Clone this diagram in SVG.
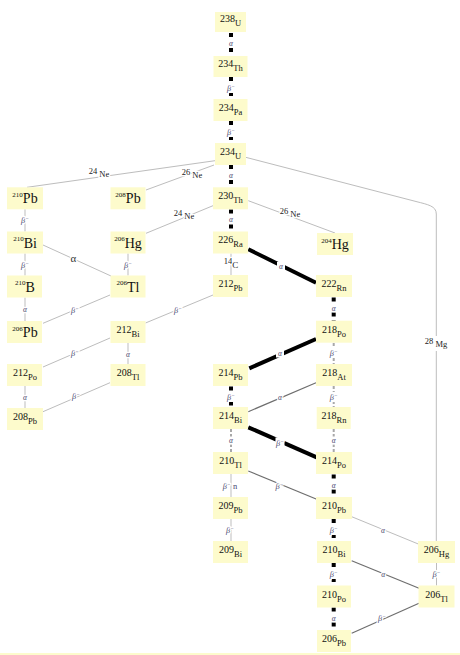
<svg xmlns="http://www.w3.org/2000/svg" width="460" height="655" viewBox="0 0 460 655">
<style>
.bx{fill:#fdfbcc}
.nl{font-family:"Liberation Serif",serif;text-anchor:middle;fill:#111}
.m{font-size:10px}
.e{font-size:8.5px}
.s{font-size:7px}
.b{font-size:14px}
.td{stroke:#000;stroke-width:4;stroke-dasharray:4 3.5;fill:none}
.ts{stroke:#000;stroke-width:4;fill:none}
.gd{stroke:#a8a8a8;stroke-width:2;stroke-dasharray:3 2;fill:none}
.lg{stroke:#bdbdbd;stroke-width:1;fill:none}
.dg{stroke:#6e6e6e;stroke-width:1.2;fill:none}
.lb{fill:#fff}
.el{font-family:"Liberation Serif",serif;font-size:7.5px;font-style:italic;fill:#4a4a70;text-anchor:middle;stroke:#fff;stroke-width:2.5px;paint-order:stroke;stroke-linejoin:round}
.bl{font-size:8.5px}
.ne{font-family:"Liberation Serif",serif;font-size:8.5px;fill:#222;text-anchor:middle;stroke:#fff;stroke-width:2.5px;paint-order:stroke;stroke-linejoin:round}
.big{font-size:11px;font-style:normal;fill:#333}
</style>
<rect width="460" height="655" fill="#fff"/>
<rect x="0" y="653" width="460" height="2" fill="#fdfbcc"/>
<g id="connectors">
<line class="td" x1="231" y1="33" x2="231" y2="55"/>
<line class="td" x1="231" y1="77" x2="231" y2="99"/>
<line class="td" x1="231" y1="121" x2="231" y2="143"/>
<line class="td" x1="231" y1="165" x2="231" y2="187"/>
<line class="td" x1="231" y1="209.5" x2="231" y2="231.5"/>
<line class="td" x1="231" y1="386.5" x2="231" y2="407"/>
<line class="td" x1="333.7" y1="297.5" x2="333.7" y2="320.5"/>
<line class="td" x1="333.7" y1="474.5" x2="333.7" y2="497"/>
<line class="td" x1="333.7" y1="519" x2="333.7" y2="541"/>
<line class="td" x1="333.7" y1="563" x2="333.7" y2="585.5"/>
<line class="td" x1="333.7" y1="607.5" x2="333.7" y2="630"/>
<line class="ts" x1="248.3" y1="249.3" x2="316" y2="282.7"/>
<line class="ts" x1="316" y1="339" x2="249.3" y2="368.3"/>
<line class="ts" x1="248.3" y1="427.3" x2="316.7" y2="457.3"/>
<line class="gd" x1="333.7" y1="343" x2="333.7" y2="364"/>
<line class="gd" x1="333.7" y1="386" x2="333.7" y2="407"/>
<line class="gd" x1="333.7" y1="429" x2="333.7" y2="452"/>
<line class="gd" x1="231" y1="429" x2="231" y2="452"/>
<line class="lg" x1="231" y1="253.5" x2="231" y2="275"/>
<line class="lg" x1="231" y1="474" x2="231" y2="497"/>
<line class="lg" x1="231" y1="519" x2="231" y2="541"/>
<line class="lg" x1="25" y1="209.3" x2="25" y2="231.5"/>
<line class="lg" x1="25" y1="253.5" x2="25" y2="275.5"/>
<line class="lg" x1="25" y1="297.5" x2="25" y2="321"/>
<line class="lg" x1="25" y1="386" x2="25" y2="408"/>
<line class="lg" x1="128" y1="253.5" x2="128" y2="275.5"/>
<line class="lg" x1="128" y1="343" x2="128" y2="364"/>
<line class="lg" x1="436.5" y1="563" x2="436.5" y2="585.5"/>
<line class="lg" x1="215" y1="160.7" x2="27" y2="187.3"/>
<line class="lg" x1="214" y1="165" x2="146" y2="190"/>
<line class="lg" x1="213" y1="205.7" x2="146" y2="233.3"/>
<line class="lg" x1="248.3" y1="200.7" x2="335" y2="233"/>
<line class="lg" x1="213" y1="295" x2="145.5" y2="323"/>
<line class="lg" x1="110" y1="295" x2="43" y2="323.3"/>
<line class="lg" x1="110" y1="338" x2="43" y2="367"/>
<line class="lg" x1="110" y1="382.7" x2="43" y2="411.7"/>
<line class="lg" x1="43" y1="245" x2="111" y2="276"/>
<line class="lg" x1="351.7" y1="516.7" x2="418.3" y2="544"/>
<path class="lg" d="M245.7,157.3 L416,201.5 C428,204.6 436.3,206 436.3,214 L436.3,336"/>
<line class="lg" x1="436.3" y1="351" x2="436.3" y2="541"/>
<line class="dg" x1="316" y1="382.7" x2="248.3" y2="411.7"/>
<line class="dg" x1="248.3" y1="471" x2="316.7" y2="499.3"/>
<line class="dg" x1="351.7" y1="560.7" x2="419" y2="588.3"/>
<line class="dg" x1="419" y1="603.3" x2="351.7" y2="633.3"/>
<rect class="lb" x="227" y="39" width="8" height="8"/>
<rect class="lb" x="227" y="83" width="8" height="10"/>
<rect class="lb" x="227" y="127" width="8" height="10"/>
<rect class="lb" x="227" y="171" width="8" height="8"/>
<rect class="lb" x="227" y="215" width="8" height="8"/>
<rect class="lb" x="227" y="392" width="8" height="10"/>
<rect class="lb" x="329.7" y="304" width="8" height="8"/>
<rect class="lb" x="329.7" y="481" width="8" height="8"/>
<rect class="lb" x="329.7" y="525" width="8" height="10"/>
<rect class="lb" x="329.7" y="569" width="8" height="10"/>
<rect class="lb" x="329.7" y="614" width="8" height="8"/>
<rect class="lb" x="277" y="262" width="8" height="8"/>
<rect class="lb" x="276" y="349.5" width="8" height="8"/>
<rect class="lb" x="275.5" y="437.5" width="9" height="10"/>
<rect class="lb" x="329.7" y="348" width="8" height="10"/>
<rect class="lb" x="329.7" y="392" width="8" height="10"/>
<rect class="lb" x="329.7" y="436.5" width="8" height="8"/>
<rect class="lb" x="227" y="436.5" width="8" height="8"/>
<text class="el" x="231" y="45.5">α</text>
<text class="el bl" x="231" y="91">β<tspan dy="-3" font-size="5.5">−</tspan></text>
<text class="el bl" x="231" y="135">β<tspan dy="-3" font-size="5.5">−</tspan></text>
<text class="el" x="231" y="177.5">α</text>
<text class="el" x="231" y="221.5">α</text>
<text class="el bl" x="231" y="400">β<tspan dy="-3" font-size="5.5">−</tspan></text>
<text class="el" x="333.7" y="310.5">α</text>
<text class="el" x="333.7" y="487.5">α</text>
<text class="el bl" x="333.7" y="533">β<tspan dy="-3" font-size="5.5">−</tspan></text>
<text class="el bl" x="333.7" y="577">β<tspan dy="-3" font-size="5.5">−</tspan></text>
<text class="el" x="333.7" y="620.5">α</text>
<text class="el" x="281" y="268.5">α</text>
<text class="el" x="280" y="356">α</text>
<text class="el bl" x="280" y="445.5">β<tspan dy="-3" font-size="5.5">−</tspan></text>
<text class="el bl" x="333.7" y="356">β<tspan dy="-3" font-size="5.5">−</tspan></text>
<text class="el bl" x="333.7" y="400">β<tspan dy="-3" font-size="5.5">−</tspan></text>
<text class="el" x="333.7" y="443">α</text>
<text class="el" x="231" y="443">α</text>
<text class="ne" x="231" y="264"><tspan>14</tspan><tspan dy="4" font-size="9">C</tspan></text>
<text class="el bl" x="230" y="489">β<tspan dy="-3" font-size="5.5">−</tspan><tspan dy="3" font-style="normal"> n</tspan></text>
<text class="el bl" x="230" y="533">β<tspan dy="-3" font-size="5.5">−</tspan></text>
<text class="el bl" x="25" y="223">β<tspan dy="-3" font-size="5.5">−</tspan></text>
<text class="el bl" x="25" y="268">β<tspan dy="-3" font-size="5.5">−</tspan></text>
<text class="el" x="25" y="311.5">α</text>
<text class="el" x="25" y="399.5">α</text>
<text class="el bl" x="128" y="268">β<tspan dy="-3" font-size="5.5">−</tspan></text>
<text class="el" x="128" y="356.5">α</text>
<text class="el bl" x="436.5" y="577">β<tspan dy="-3" font-size="5.5">−</tspan></text>
<text class="ne" x="99" y="174"><tspan>24</tspan><tspan dy="3"> Ne</tspan></text>
<text class="ne" x="192" y="175"><tspan>26</tspan><tspan dy="3"> Ne</tspan></text>
<text class="ne" x="184" y="216"><tspan>24</tspan><tspan dy="3"> Ne</tspan></text>
<text class="ne" x="290" y="214"><tspan>26</tspan><tspan dy="3"> Ne</tspan></text>
<text class="ne" x="436" y="344"><tspan>28</tspan><tspan dy="3"> Mg</tspan></text>
<text class="el bl" x="178" y="313">β<tspan dy="-3" font-size="5.5">−</tspan></text>
<text class="el bl" x="75" y="313">β<tspan dy="-3" font-size="5.5">−</tspan></text>
<text class="el bl" x="75" y="356">β<tspan dy="-3" font-size="5.5">−</tspan></text>
<text class="el bl" x="76" y="399">β<tspan dy="-3" font-size="5.5">−</tspan></text>
<text class="el big" x="73.5" y="262">α</text>
<text class="el" x="383" y="532.5">α</text>
<text class="el bl" x="279.5" y="489">β<tspan dy="-3" font-size="5.5">−</tspan></text>
<text class="el" x="280" y="400">α</text>
<text class="el" x="383.3" y="577">α</text>
<text class="el bl" x="382" y="621">β<tspan dy="-3" font-size="5.5">−</tspan></text>
</g>
<g id="U238"><rect class="bx" x="215" y="12" width="31" height="20"/><text class="nl" x="230.5" y="22"><tspan class="m">238</tspan><tspan class="e" dy="4">U</tspan></text></g>
<g id="Th234"><rect class="bx" x="213.5" y="56" width="34" height="21"/><text class="nl" x="230.5" y="66.5"><tspan class="m">234</tspan><tspan class="e" dy="4">Th</tspan></text></g>
<g id="Pa234"><rect class="bx" x="213.5" y="99" width="34" height="22"/><text class="nl" x="230.5" y="110.5"><tspan class="m">234</tspan><tspan class="e" dy="4">Pa</tspan></text></g>
<g id="U234"><rect class="bx" x="215" y="143" width="31" height="22"/><text class="nl" x="230.5" y="154.5"><tspan class="m">234</tspan><tspan class="e" dy="4">U</tspan></text></g>
<g id="Th230"><rect class="bx" x="213" y="187.3" width="35" height="22"/><text class="nl" x="230.5" y="199"><tspan class="m">230</tspan><tspan class="e" dy="4">Th</tspan></text></g>
<g id="Ra226"><rect class="bx" x="213" y="231.5" width="35" height="22"/><text class="nl" x="230.5" y="243"><tspan class="m">226</tspan><tspan class="e" dy="4">Ra</tspan></text></g>
<g id="Pb212"><rect class="bx" x="213" y="275" width="35" height="22"/><text class="nl" x="230.5" y="287"><tspan class="m">212</tspan><tspan class="e" dy="4">Pb</tspan></text></g>
<g id="Pb214"><rect class="bx" x="213" y="364" width="35" height="22"/><text class="nl" x="230.5" y="376"><tspan class="m">214</tspan><tspan class="e" dy="4">Pb</tspan></text></g>
<g id="Bi214"><rect class="bx" x="213" y="407" width="35" height="22"/><text class="nl" x="230.5" y="419"><tspan class="m">214</tspan><tspan class="e" dy="4">Bi</tspan></text></g>
<g id="Tl210"><rect class="bx" x="213" y="452" width="35" height="22"/><text class="nl" x="230.5" y="464"><tspan class="m">210</tspan><tspan class="e" dy="4">Tl</tspan></text></g>
<g id="Pb209"><rect class="bx" x="213" y="497" width="35" height="22"/><text class="nl" x="230.5" y="509"><tspan class="m">209</tspan><tspan class="e" dy="4">Pb</tspan></text></g>
<g id="Bi209"><rect class="bx" x="213" y="541" width="35" height="22"/><text class="nl" x="230.5" y="553"><tspan class="m">209</tspan><tspan class="e" dy="4">Bi</tspan></text></g>
<g id="Hg204"><rect class="bx" x="317" y="233" width="36" height="22"/><text class="nl" x="335" y="249"><tspan class="s" dy="-6.5">204</tspan><tspan class="b" dy="6.5">Hg</tspan></text></g>
<g id="Rn222"><rect class="bx" x="316" y="275" width="36" height="22"/><text class="nl" x="334" y="287"><tspan class="m">222</tspan><tspan class="e" dy="4">Rn</tspan></text></g>
<g id="Po218"><rect class="bx" x="316" y="320.7" width="36" height="22"/><text class="nl" x="334" y="332.5"><tspan class="m">218</tspan><tspan class="e" dy="4">Po</tspan></text></g>
<g id="At218"><rect class="bx" x="316" y="364" width="36" height="22"/><text class="nl" x="334" y="376"><tspan class="m">218</tspan><tspan class="e" dy="4">At</tspan></text></g>
<g id="Rn218"><rect class="bx" x="316.7" y="407" width="34" height="22"/><text class="nl" x="334" y="419"><tspan class="m">218</tspan><tspan class="e" dy="4">Rn</tspan></text></g>
<g id="Po214"><rect class="bx" x="316" y="452" width="36" height="22"/><text class="nl" x="334" y="464"><tspan class="m">214</tspan><tspan class="e" dy="4">Po</tspan></text></g>
<g id="Pb210r"><rect class="bx" x="316" y="497" width="36" height="22"/><text class="nl" x="334" y="509"><tspan class="m">210</tspan><tspan class="e" dy="4">Pb</tspan></text></g>
<g id="Bi210r"><rect class="bx" x="317" y="541" width="34" height="22"/><text class="nl" x="334" y="553"><tspan class="m">210</tspan><tspan class="e" dy="4">Bi</tspan></text></g>
<g id="Po210"><rect class="bx" x="317" y="585.5" width="34" height="22"/><text class="nl" x="334" y="597.5"><tspan class="m">210</tspan><tspan class="e" dy="4">Po</tspan></text></g>
<g id="Pb206r"><rect class="bx" x="317" y="630" width="34" height="22"/><text class="nl" x="334" y="642"><tspan class="m">206</tspan><tspan class="e" dy="4">Pb</tspan></text></g>
<g id="Hg206r"><rect class="bx" x="418" y="541" width="37" height="22"/><text class="nl" x="436.5" y="553"><tspan class="m">206</tspan><tspan class="e" dy="4">Hg</tspan></text></g>
<g id="Tl206r"><rect class="bx" x="418.5" y="585.5" width="36" height="22"/><text class="nl" x="436.5" y="597.5"><tspan class="m">206</tspan><tspan class="e" dy="4">Tl</tspan></text></g>
<g id="Pb210l"><rect class="bx" x="7" y="187.3" width="36" height="22"/><text class="nl" x="25" y="203.3"><tspan class="s" dy="-6.5">210</tspan><tspan class="b" dy="6.5">Pb</tspan></text></g>
<g id="Bi210l"><rect class="bx" x="7" y="231.5" width="36" height="22"/><text class="nl" x="25" y="247.5"><tspan class="s" dy="-6.5">210</tspan><tspan class="b" dy="6.5">Bi</tspan></text></g>
<g id="B210"><rect class="bx" x="7" y="275.5" width="35" height="22"/><text class="nl" x="25" y="291.5"><tspan class="s" dy="-6.5">210</tspan><tspan class="b" dy="6.5">B</tspan></text></g>
<g id="Pb206l"><rect class="bx" x="7" y="321" width="35" height="22"/><text class="nl" x="25" y="337"><tspan class="s" dy="-6.5">206</tspan><tspan class="b" dy="6.5">Pb</tspan></text></g>
<g id="Po212"><rect class="bx" x="7" y="364" width="35" height="22"/><text class="nl" x="25" y="376"><tspan class="m">212</tspan><tspan class="e" dy="4">Po</tspan></text></g>
<g id="Pb208l"><rect class="bx" x="7" y="408" width="36" height="22"/><text class="nl" x="25" y="420"><tspan class="m">208</tspan><tspan class="e" dy="4">Pb</tspan></text></g>
<g id="Pb208b"><rect class="bx" x="110.5" y="187.3" width="35" height="22"/><text class="nl" x="128" y="203.3"><tspan class="s" dy="-6.5">208</tspan><tspan class="b" dy="6.5">Pb</tspan></text></g>
<g id="Hg206b"><rect class="bx" x="110.5" y="231.5" width="35" height="22"/><text class="nl" x="128" y="247.5"><tspan class="s" dy="-6.5">206</tspan><tspan class="b" dy="6.5">Hg</tspan></text></g>
<g id="Tl206b"><rect class="bx" x="110.5" y="275.5" width="35" height="22"/><text class="nl" x="128" y="291.5"><tspan class="s" dy="-6.5">206</tspan><tspan class="b" dy="6.5">Tl</tspan></text></g>
<g id="Bi212"><rect class="bx" x="110.5" y="321" width="35" height="22"/><text class="nl" x="128" y="333"><tspan class="m">212</tspan><tspan class="e" dy="4">Bi</tspan></text></g>
<g id="Tl208"><rect class="bx" x="110.5" y="364" width="35" height="22"/><text class="nl" x="128" y="376"><tspan class="m">208</tspan><tspan class="e" dy="4">Tl</tspan></text></g>
</svg>
